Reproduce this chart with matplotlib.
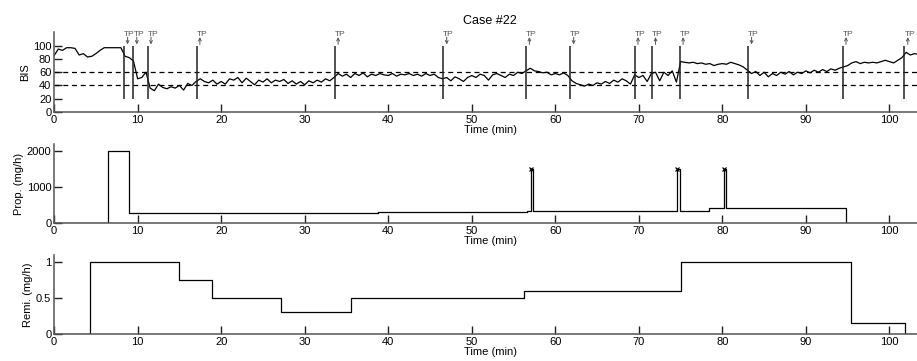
import numpy as np
import matplotlib
matplotlib.use("Agg")
import matplotlib.pyplot as plt

plt.rcParams['font.family'] = ['Liberation Sans', 'DejaVu Sans']

# BIS samples every 0.5 min
bis_time = np.arange(0, 104, 0.5)
bis = [
    85, 95, 93, 97, 97, 96, 86, 88, 83, 84, 88, 93, 97, 97, 97, 97, 97, 84, 82, 77,
    50, 52, 60, 36, 32, 42, 37, 35, 38, 36, 40, 33, 43, 40, 46, 50, 46, 44, 48, 42,
    46, 42, 50, 48, 52, 44, 51, 46, 41, 48, 45, 50, 44, 48, 46, 49, 43, 47, 42, 46,
    41, 47, 44, 48, 45, 50, 47, 52, 58, 54, 57, 52, 58, 55, 59, 53, 57, 55, 58, 56,
    55, 58, 54, 57, 56, 58, 55, 57, 54, 58, 55, 57, 52, 50, 52, 47, 53, 50, 46, 52,
    55, 52, 57, 55, 48, 56, 58, 55, 52, 57, 55, 60, 58, 62, 66, 62, 61, 59, 60, 56,
    58, 56, 59, 55, 47, 43, 41, 39, 42, 40, 44, 42, 46, 43, 48, 45, 50, 47, 42, 56,
    52, 55, 46, 58, 60, 47, 60, 55, 62, 45, 76, 75, 74, 75, 73, 74, 72, 73, 70, 72,
    73, 72, 75, 73, 71, 68, 63, 58, 61, 55, 60, 53, 58, 55, 60, 57, 61, 56, 60, 58,
    62, 59, 63, 60, 64, 61, 65, 63, 66, 68, 70, 74, 76, 73, 75, 74, 75, 74, 76, 78,
    76, 74, 78, 82, 90, 86, 88, 87,
]

# transition points
tp_times = [8.4, 9.5, 11.2, 17.05, 33.6, 46.6, 56.5, 61.8, 69.5, 71.6, 74.9, 83.1, 94.4, 101.8]
tp_dirs = ['down', 'down', 'down', 'up', 'up', 'down', 'up', 'down',
           'up', 'up', 'up', 'down', 'up', 'up']

# propofol infusion (mg/h), step changes
prop_time = [0, 6.4, 9.0, 38.8, 56.6, 57.05, 57.3, 74.6, 74.9, 78.4, 80.2, 80.45, 94.8, 104]
prop_rate = [0, 2000, 300, 320, 340, 1500, 340, 1500, 340, 420, 1500, 420, 0, 0]
bolus_time = [57.05, 74.6, 80.2]
bolus_rate = [1500, 1500, 1500]

# remifentanil infusion (mg/h), step changes
remi_time = [0, 4.3, 14.9, 18.9, 27.2, 35.6, 56.3, 75.0, 95.2, 95.45, 101.7, 101.9, 104]
remi_rate = [0, 1.0, 0.75, 0.5, 0.3, 0.5, 0.6, 1.0, 1.0, 0.15, 0.15, 0, 0]

fig = plt.figure(figsize=(9.17, 3.61), dpi=100)
ax1 = fig.add_axes([0.059, 0.690, 0.951, 0.220])
ax2 = fig.add_axes([0.059, 0.381, 0.951, 0.220])
ax3 = fig.add_axes([0.059, 0.075, 0.951, 0.219])

for ax in (ax1, ax2, ax3):
    for s in ('top', 'right'):
        ax.spines[s].set_visible(False)
    for s in ('left', 'bottom'):
        ax.spines[s].set_color('#555555')
        ax.spines[s].set_linewidth(1.1)
    ax.tick_params(direction='in', length=6, width=1.0, color='#222222',
                   labelsize=8, pad=2)
    ax.set_xlim(0, 104.4)
    ax.set_xticks(range(0, 101, 10))
    ax.set_xlabel('Time (min)', fontsize=8, labelpad=0)

# BIS panel
ax1.plot(bis_time, bis, color='black', lw=0.9)
ax1.axhline(40, color='black', lw=0.9, ls=(0, (4, 3)))
ax1.axhline(60, color='black', lw=0.9, ls=(0, (4, 3)))
ax1.vlines(tp_times, 20, 100, color='#222222', lw=1.1)
for t, d in zip(tp_times, tp_dirs):
    ax1.text(t, 112, 'TP', fontsize=6, color='#555555', ha='left', va='bottom')
    if d == 'down':
        ax1.annotate('', xy=(t + 0.4, 102), xytext=(t + 0.4, 113),
                     arrowprops=dict(arrowstyle='->', color='#555555', lw=0.7,
                                     shrinkA=0, shrinkB=0, mutation_scale=5))
    else:
        ax1.annotate('', xy=(t + 0.4, 113), xytext=(t + 0.4, 102),
                     arrowprops=dict(arrowstyle='->', color='#555555', lw=0.7,
                                     shrinkA=0, shrinkB=0, mutation_scale=5))
ax1.set_ylim(0, 120)
ax1.set_yticks(range(0, 101, 20))
ax1.set_ylabel('BIS', fontsize=8, labelpad=2)
ax1.set_title('Case #22', fontsize=9, pad=6)

# propofol panel
ax2.plot(prop_time, prop_rate, color='black', lw=0.9, drawstyle='steps-post')
ax2.plot(bolus_time, bolus_rate, 'x', color='black', ms=3, mew=0.9)
ax2.set_ylim(0, 2200)
ax2.set_yticks([0, 1000, 2000])
ax2.set_ylabel('Prop. (mg/h)', fontsize=8, labelpad=2)

# remifentanil panel
ax3.plot(remi_time, remi_rate, color='black', lw=0.9, drawstyle='steps-post')
ax3.set_ylim(0, 1.1)
ax3.set_yticks([0, 0.5, 1])
ax3.set_yticklabels(['0', '0.5', '1'])
ax3.set_ylabel('Remi. (mg/h)', fontsize=8, labelpad=2)

fig.savefig('out.png', dpi=100)
